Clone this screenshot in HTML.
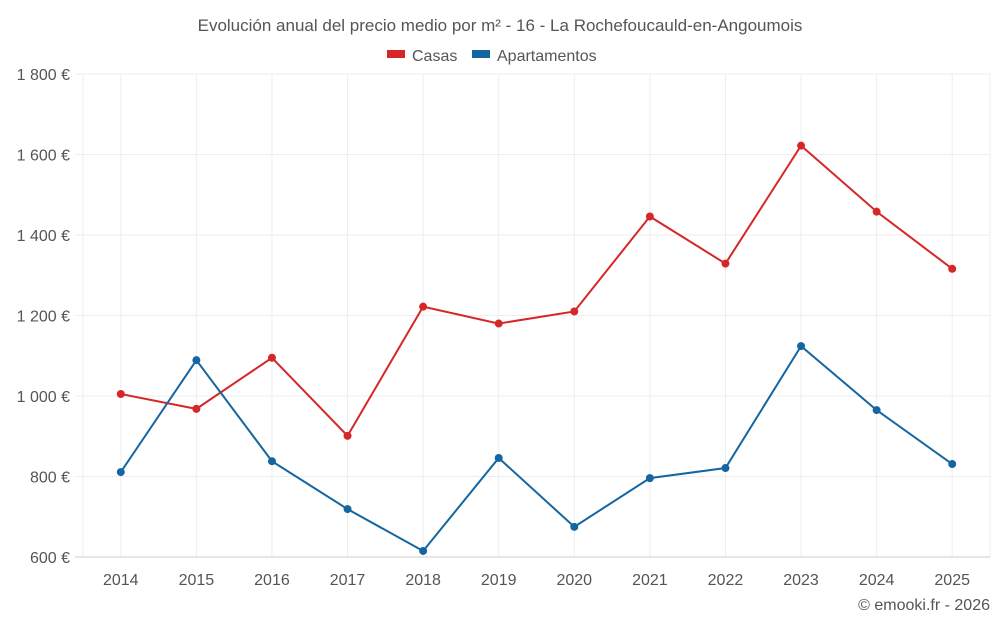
<!DOCTYPE html>
<html><head><meta charset="utf-8"><style>
body{margin:0;background:#fff;width:1000px;height:625px;overflow:hidden;font-family:"Liberation Sans",sans-serif}
svg text{font-family:"Liberation Sans",sans-serif}
</style></head><body>
<svg id="chart" width="1000" height="625">
<text x="500" y="31" text-anchor="middle" font-size="17" fill="#555">Evolución anual del precio medio por m² - 16 - La Rochefoucauld-en-Angoumois</text>
<g>
<g><rect x="387" y="50" width="18" height="8" fill="#d62728"/><text x="412" y="61" font-size="16" fill="#555">Casas</text></g>
<g><rect x="472" y="50" width="18" height="8" fill="#1565a0"/><text x="497" y="61" font-size="16" fill="#555">Apartamentos</text></g>
</g>
<g id="grid"></g><g id="axes"></g><g id="series"></g>
<text x="990" y="610" text-anchor="end" font-size="16" fill="#555">© emooki.fr - 2026</text>
</svg>
<script>
const years=[2014,2015,2016,2017,2018,2019,2020,2021,2022,2023,2024,2025];
const casas=[1005,968,1095,901,1222,1180,1210,1446,1329,1622,1458,1316];
const apartamentos=[811,1089,838,719,615,846,675,796,821,1124,965,831];
const yTicks=[600,800,1000,1200,1400,1600,1800];
const yTickLabels=["600 €","800 €","1 000 €","1 200 €","1 400 €","1 600 €","1 800 €"];
const L=83,R=990,T=74,B=557,ymin=600,ymax=1800;
const step=(R-L)/years.length;
const x=i=>L+step*(i+0.5);
const y=v=>B-(v-ymin)/(ymax-ymin)*(B-T);
const NS="http://www.w3.org/2000/svg";
function mk(tag,attrs,parent){const e=document.createElementNS(NS,tag);for(const k in attrs)e.setAttribute(k,attrs[k]);parent.appendChild(e);return e;}
const grid=document.getElementById('grid'),axes=document.getElementById('axes'),ser=document.getElementById('series');
[L,R].forEach(px=>{
 const l=mk('line',{x1:px,x2:px,y1:T,y2:B,stroke:'#eee'},grid);
 
 
});
years.forEach((yr,i)=>{
 const l=mk('line',{x1:x(i),x2:x(i),y1:T,y2:B,stroke:'#eee'},grid);
 
 
});
yTicks.forEach((t,i)=>{
 const l=mk('line',{x1:75,x2:R,y1:y(t),y2:y(t),stroke:i==0?'#ccc':'#eee'},grid);
 
 
 const tx=mk('text',{x:70,y:y(t)+6,'text-anchor':'end','font-size':16,fill:'#555'},axes);
 tx.textContent=yTickLabels[i];
 
 
});
years.forEach((yr,i)=>{
 const tx=mk('text',{x:x(i),y:585,'text-anchor':'middle','font-size':16,fill:'#555'},axes);
 tx.textContent=yr;
 
 
});
function series(vals,color,name){
 const p=mk('polyline',{points:vals.map((v,i)=>x(i)+','+y(v)).join(' '),fill:'none',stroke:color,'stroke-width':2},ser);
 
 
 vals.forEach((v,i)=>{
  const c=mk('circle',{cx:x(i),cy:y(v),r:4,fill:color},ser);
  
  
 });
}
series(casas,'#d62728','casas');
series(apartamentos,'#1565a0','apartamentos');
</script>
</body></html>
